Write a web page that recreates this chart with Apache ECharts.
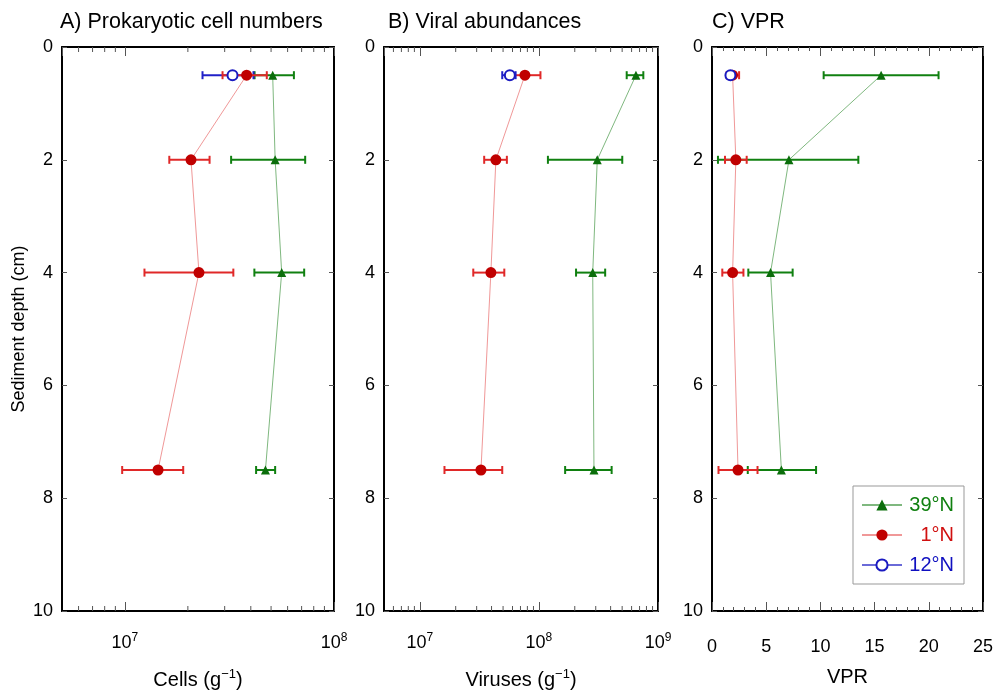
<!DOCTYPE html>
<html><head><meta charset="utf-8">
<script src="https://cdn.jsdelivr.net/npm/echarts@6/dist/echarts.min.js"></script>
<style>html,body{margin:0;padding:0;background:#fff}#c{width:997px;height:695px}</style>
</head><body><div id="c"></div>
<script>
// ---------- data ----------
const depths = [0.5, 2, 4, 7.5];
const depth12 = [0.5];
// Panel A: prokaryotic cells (g^-1)
const cells39 = [5.09e7, 5.23e7, 5.62e7, 4.70e7];
const cells39Lo = [4.17e7, 3.22e7, 4.16e7, 4.24e7];
const cells39Hi = [6.43e7, 7.28e7, 7.20e7, 5.23e7];
const cells1 = [3.82e7, 2.07e7, 2.26e7, 1.44e7];
const cells1Lo = [2.93e7, 1.63e7, 1.24e7, 0.97e7];
const cells1Hi = [4.77e7, 2.54e7, 3.30e7, 1.90e7];
const cells12 = [3.27e7];
const cells12Lo = [2.35e7];
const cells12Hi = [4.12e7];
// Panel B: viruses (g^-1)
const vir39 = [6.53e8, 3.09e8, 2.83e8, 2.90e8];
const vir39Lo = [5.46e8, 1.19e8, 2.05e8, 1.66e8];
const vir39Hi = [7.53e8, 5.01e8, 3.60e8, 4.08e8];
const vir1 = [7.63e7, 4.35e7, 3.95e7, 3.26e7];
const vir1Lo = [5.93e7, 3.47e7, 2.81e7, 1.61e7];
const vir1Hi = [1.03e8, 5.38e7, 5.12e7, 4.92e7];
const vir12 = [5.70e7];
const vir12Lo = [4.92e7];
const vir12Hi = [6.37e7];
// Panel C: VPR
const vpr39 = [15.6, 7.1, 5.4, 6.4];
const vpr39Lo = [10.3, 0.55, 3.35, 3.3];
const vpr39Hi = [20.9, 13.5, 7.44, 9.6];
const vpr1 = [1.9, 2.2, 1.9, 2.4];
const vpr1Lo = [1.35, 1.2, 0.95, 0.6];
const vpr1Hi = [2.5, 3.2, 2.9, 4.2];
const vpr12 = [1.7];
const vpr12Lo = [1.4];
const vpr12Hi = [2.0];
// minor tick values for log axes
const minorTicksA = [6e6,7e6,8e6,9e6,2e7,3e7,4e7,5e7,6e7,7e7,8e7,9e7];
const minorTicksB = [6e6,7e6,8e6,9e6,2e7,3e7,4e7,5e7,6e7,7e7,8e7,9e7,2e8,3e8,4e8,5e8,6e8,7e8,8e8,9e8];
const seriesNames = ['39°N', '1°N', '12°N'];

// ---------- styles ----------
const FONT = 'Liberation Sans, Arial, sans-serif';
const C39 = { mark: '#0b6e0b', bar: '#108010', line: '#7fb87f', text: '#108010' };
const C1 = { mark: '#c00000', bar: '#e02828', line: '#f09898', text: '#d01010' };
const C12 = { mark: '#1a1ac0', bar: '#2020c8', line: '#6a6ad8', text: '#1010c0' };

const grids = [
  { left: 62, width: 272, top: 47, height: 564 },
  { left: 384, width: 274, top: 47, height: 564 },
  { left: 712, width: 271, top: 47, height: 564 }
].map(g => Object.assign({ containLabel: false, outerBoundsMode: 'none' }, g));

const supRich = {
  b: { fontSize: 18, fontFamily: FONT, color: '#000', lineHeight: 22 },
  s: { fontSize: 12, fontFamily: FONT, color: '#000', verticalAlign: 'top', lineHeight: 12 }
};
const nameRich = {
  n: { fontSize: 20, fontFamily: FONT, color: '#000', lineHeight: 24 },
  s: { fontSize: 13, fontFamily: FONT, color: '#000', verticalAlign: 'top', lineHeight: 13 }
};

function logAxis(gi, min, max, name, top) {
  return {
    type: 'log', logBase: 10, gridIndex: gi, min: min, max: max,
    position: top ? 'top' : 'bottom',
    name: top ? '' : name, nameLocation: 'middle', nameGap: 57,
    nameTextStyle: { rich: nameRich },
    axisLine: { show: true, onZero: false, lineStyle: { color: '#000', width: 2 } },
    axisTick: { show: true, inside: true, length: 9, lineStyle: { color: '#555', width: 1 } },
    minorTick: { show: false },
    splitLine: { show: false },
    axisLabel: {
      show: !top, margin: 21, showMinLabel: false, showMaxLabel: true,
      formatter: v => '{b|10}{s|' + Math.round(Math.log10(v)) + '}', rich: supRich
    }
  };
}
function linAxisX(gi, top) {
  return {
    type: 'value', gridIndex: gi, min: 0, max: 25, interval: 5,
    position: top ? 'top' : 'bottom',
    name: top ? '' : 'VPR', nameLocation: 'middle', nameGap: 56,
    nameTextStyle: { fontSize: 20, fontFamily: FONT, color: '#000' },
    axisLine: { show: true, onZero: false, lineStyle: { color: '#000', width: 2 } },
    axisTick: { show: true, inside: true, length: 9, lineStyle: { color: '#555', width: 1 } },
    minorTick: { show: true, splitNumber: 5, length: 4, lineStyle: { color: '#555', width: 1 } },
    splitLine: { show: false },
    axisLabel: { show: !top, margin: 27, fontSize: 18, fontFamily: FONT, color: '#000' }
  };
}
function yAxis(gi, right, withName) {
  return {
    type: 'value', gridIndex: gi, min: 0, max: 10, interval: 2, inverse: true,
    position: right ? 'right' : 'left',
    name: withName ? 'Sediment depth (cm)' : '', nameLocation: 'middle', nameGap: 34,
    nameTextStyle: { fontSize: 18, fontFamily: FONT, color: '#000' },
    axisLine: { show: true, onZero: false, lineStyle: { color: '#000', width: 2 } },
    axisTick: { show: true, inside: true, length: 5, lineStyle: { color: '#555', width: 1 } },
    splitLine: { show: false },
    axisLabel: { show: !right, margin: 9, fontSize: 18, fontFamily: FONT, color: '#000' }
  };
}

const xAxes = [
  logAxis(0, 5e6, 1e8, '{n|Cells (g}{s|−1}{n|)}', false),
  logAxis(0, 5e6, 1e8, '', true),
  logAxis(1, 5e6, 1e9, '{n|Viruses (g}{s|−1}{n|)}', false),
  logAxis(1, 5e6, 1e9, '', true),
  linAxisX(2, false),
  linAxisX(2, true)
];
const yAxes = [yAxis(0, false, true), yAxis(0, true, false), yAxis(1, false, false), yAxis(1, true, false), yAxis(2, false, false), yAxis(2, true, false)];

function pairs(xs, ys) { return xs.map((x, i) => [x, ys[i]]); }
function bars(lo, hi, ys) { return lo.map((l, i) => [l, hi[i], ys[i]]); }

function errSeries(xi, yi, data, color) {
  return {
    type: 'custom', xAxisIndex: xi, yAxisIndex: yi, silent: true, z: 2,
    encode: { x: [0, 1], y: 2 },
    data: data,
    renderItem: function (params, api) {
      const d = api.value(2);
      const a = api.coord([api.value(0), d]);
      const b = api.coord([api.value(1), d]);
      const h = 4;
      const st = { stroke: color, lineWidth: 2 };
      return {
        type: 'group', children: [
          { type: 'line', shape: { x1: a[0], y1: a[1], x2: b[0], y2: b[1] }, style: st },
          { type: 'line', shape: { x1: a[0], y1: a[1] - h, x2: a[0], y2: a[1] + h }, style: st },
          { type: 'line', shape: { x1: b[0], y1: b[1] - h, x2: b[0], y2: b[1] + h }, style: st }
        ]
      };
    }
  };
}
function minorSeries(xi, yi, vals) {
  return {
    type: 'custom', xAxisIndex: xi, yAxisIndex: yi, silent: true, z: 5,
    encode: { x: 0, y: 1 },
    data: vals.map(v => [v, 0]),
    renderItem: function (params, api) {
      const p = api.coord([api.value(0), 0]);
      const cs = params.coordSys;
      const st = { stroke: '#555', lineWidth: 1 };
      return {
        type: 'group', children: [
          { type: 'line', shape: { x1: p[0], y1: cs.y, x2: p[0], y2: cs.y + 5 }, style: st },
          { type: 'line', shape: { x1: p[0], y1: cs.y + cs.height, x2: p[0], y2: cs.y + cs.height - 5 }, style: st }
        ]
      };
    }
  };
}
function lineSeries(name, xi, yi, data, col, symbol, size) {
  return {
    name: name, type: 'line', xAxisIndex: xi, yAxisIndex: yi, z: 4,
    data: data, symbol: symbol, symbolSize: size, showSymbol: true,
    lineStyle: { color: col.line, width: 1 },
    itemStyle: symbol === 'emptyCircle' ? { color: col.mark, borderColor: col.mark, borderWidth: 1.5 } : { color: col.mark },
    emphasis: { disabled: true }, animation: false
  };
}

const series = [
  minorSeries(0, 0, minorTicksA),
  minorSeries(2, 2, minorTicksB),
  // Panel A
  errSeries(0, 0, bars(cells39Lo, cells39Hi, depths), C39.bar),
  errSeries(0, 0, bars(cells12Lo, cells12Hi, depth12), C12.bar),
  errSeries(0, 0, bars(cells1Lo, cells1Hi, depths), C1.bar),
  lineSeries('39°N', 0, 0, pairs(cells39, depths), C39, 'triangle', 9),
  lineSeries('1°N', 0, 0, pairs(cells1, depths), C1, 'circle', 11),
  lineSeries('12°N', 0, 0, pairs(cells12, depth12), C12, 'emptyCircle', 10),
  // Panel B
  errSeries(2, 2, bars(vir39Lo, vir39Hi, depths), C39.bar),
  errSeries(2, 2, bars(vir1Lo, vir1Hi, depths), C1.bar),
  errSeries(2, 2, bars(vir12Lo, vir12Hi, depth12), C12.bar),
  lineSeries('39°N', 2, 2, pairs(vir39, depths), C39, 'triangle', 9),
  lineSeries('1°N', 2, 2, pairs(vir1, depths), C1, 'circle', 11),
  lineSeries('12°N', 2, 2, pairs(vir12, depth12), C12, 'emptyCircle', 10),
  // Panel C
  errSeries(4, 4, bars(vpr39Lo, vpr39Hi, depths), C39.bar),
  errSeries(4, 4, bars(vpr1Lo, vpr1Hi, depths), C1.bar),
  errSeries(4, 4, bars(vpr12Lo, vpr12Hi, depth12), C12.bar),
  lineSeries('39°N', 4, 4, pairs(vpr39, depths), C39, 'triangle', 9),
  lineSeries('1°N', 4, 4, pairs(vpr1, depths), C1, 'circle', 11),
  lineSeries('12°N', 4, 4, pairs(vpr12, depth12), C12, 'emptyCircle', 10)
];

const legendKey = { '39°N': 'g', '1°N': 'r', '12°N': 'b' };
const chart = echarts.init(document.getElementById('c'), null, { renderer: 'canvas' });
chart.setOption({
  animation: false,
  backgroundColor: '#fff',
  title: [
    { text: 'A) Prokaryotic cell numbers', left: 55, top: 6 },
    { text: 'B) Viral abundances', left: 383, top: 6 },
    { text: 'C) VPR', left: 707, top: 6 }
  ].map(t => Object.assign(t, { textStyle: { fontSize: 21.5, fontWeight: 'normal', fontFamily: FONT, color: '#000' } })),
  grid: grids,
  xAxis: xAxes,
  yAxis: yAxes,
  legend: {
    data: seriesNames, orient: 'vertical', left: 853, top: 486,
    padding: [9, 10, 9, 8], itemGap: 10, itemWidth: 40, itemHeight: 14,
    borderColor: '#999', borderWidth: 1, backgroundColor: '#fff',
    selectedMode: false,
    formatter: n => '{' + legendKey[n] + '|' + n + '}',
    textStyle: {
      fontSize: 20, fontFamily: FONT,
      rich: {
        g: { color: C39.text, fontSize: 20, fontFamily: FONT, width: 47, align: 'right' },
        r: { color: C1.text, fontSize: 20, fontFamily: FONT, width: 47, align: 'right' },
        b: { color: C12.text, fontSize: 20, fontFamily: FONT, width: 47, align: 'right' }
      }
    }
  },
  series: series
});
</script>
</body></html>
